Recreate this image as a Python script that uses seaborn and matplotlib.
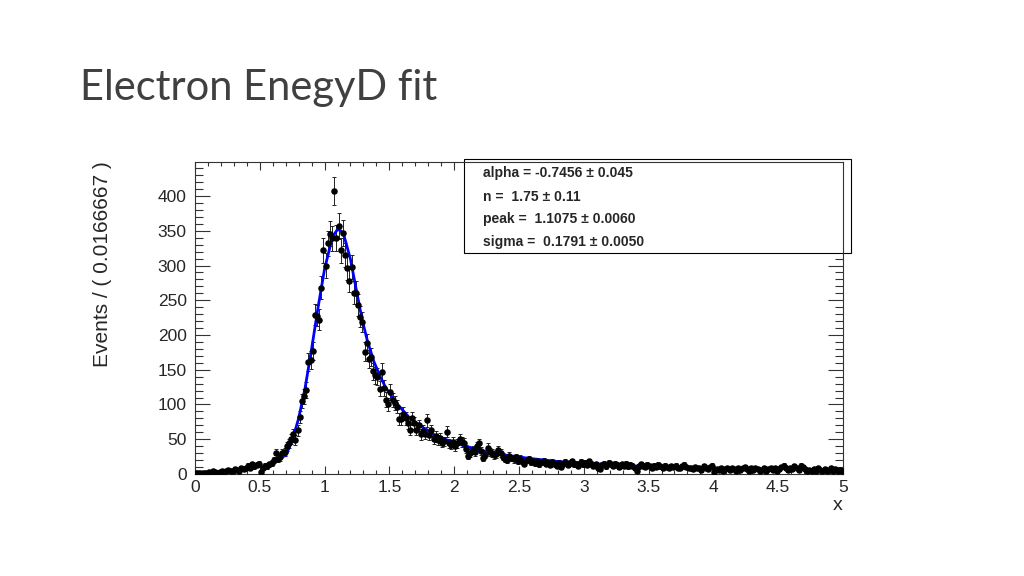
import numpy as np
import pandas as pd
import seaborn as sns
import matplotlib.pyplot as plt
from matplotlib.patches import Rectangle
from matplotlib.ticker import MultipleLocator

# histogram counts, 300 bins of width 1/60 from 0 to 5
counts_low = [2, 1, 2, 1, 1, 2, 3, 2, 4, 3, 2, 3,
              5, 3, 4, 6, 5, 4, 7, 6, 5, 8, 7, 9,
              12, 9, 14, 11, 13, 15, 3, 9, 12, 11, 14, 16,
              20, 30, 22, 24, 30, 32]
counts_peak = [40, 44, 50, 57, 49, 63, 82, 105, 112, 121,
               161, 164, 177, 229, 228, 222, 268, 322, 300, 332,
               346, 339, 407, 340, 357, 322, 347, 315, 297, 278,
               298, 261, 261, 243, 226, 219, 176, 188, 165, 169,
               148, 142, 140, 123, 147, 124, 107, 100, 118, 106,
               102, 97, 79, 79, 87, 80, 73, 64]
counts_tail = [80, 73, 64, 70, 57, 62, 58, 77, 56, 63,
               50, 54, 49, 52, 45, 47, 61, 44, 42, 46,
               40, 44, 51, 46, 45, 36, 26, 30, 34, 31,
               40, 44, 33, 23, 28, 38, 32, 30, 27, 29,
               34, 30, 25, 22, 20, 26, 23, 21, 24, 19,
               22, 18, 15, 20, 21, 17, 19, 16, 18, 14,
               17, 19, 15, 16, 13, 17, 14, 12, 16, 10,
               15, 17, 13, 16, 18, 14, 15, 12, 17, 14]
counts_flat = [16, 13, 18, 15, 12, 14, 9, 7, 13, 15,
               11, 16, 14, 12, 15, 13, 10, 14, 12, 15,
               11, 13, 12, 9, 5, 11, 14, 12, 10, 13,
               11, 9, 12, 10, 13, 11, 9, 12, 10, 8,
               11, 10, 12, 9, 8, 11, 13, 10, 8, 9,
               7, 10, 8, 9, 6, 11, 8, 7, 10, 12]
counts_end = [3, 7, 6, 8, 5, 7, 9, 6, 8, 7,
              5, 9, 6, 8, 10, 7, 5, 8, 6, 9,
              7, 5, 6, 8, 4, 7, 9, 6, 8, 5,
              7, 10, 12, 8, 6, 9, 7, 11, 9, 6,
              12, 10, 7, 5, 6, 4, 7, 5, 8, 6,
              4, 7, 5, 6, 8, 5, 7, 4, 6, 5]

# fitted curve
fit_x = [0.70, 0.75, 0.80, 0.85, 0.90, 0.95, 1.00, 1.05, 1.075, 1.10, 1.125,
         1.15, 1.20, 1.25, 1.29, 1.33, 1.38, 1.43, 1.47, 1.55, 1.65, 1.75,
         1.85, 2.00, 2.20, 2.40, 2.60, 2.80, 3.00, 3.20, 3.40, 3.60, 3.80, 4.00]
fit_y = [26, 48, 80, 124, 180, 240, 295, 333, 345, 352, 350,
         343, 309, 260, 222, 192, 162, 140, 125, 103, 82, 68,
         56, 45, 34, 27, 22, 18, 15.5, 13.5, 11.5, 10, 8.8, 7.8]

stat_lines = ["alpha = -0.7456 \u00b1 0.045",
              "n =  1.75 \u00b1 0.11",
              "peak =  1.1075 \u00b1 0.0060",
              "sigma =  0.1791 \u00b1 0.0050"]

counts = np.array(counts_low + counts_peak + counts_tail + counts_flat + counts_end)
centers = np.arange(len(counts)) / 60 + 1 / 120
df = pd.DataFrame({"x": centers, "n": counts})
fit = pd.DataFrame({"x": fit_x, "y": fit_y})

sns.set_style("ticks")
plt.rcParams['font.family'] = ['Liberation Sans', 'DejaVu Sans']

fig = plt.figure(figsize=(10.24, 5.76), dpi=100)
ax = fig.add_axes([0.1904, 0.1771, 0.6328, 0.5417])

ax.errorbar(df["x"], df["n"], yerr=np.sqrt(df["n"]), fmt="none",
            ecolor="#222222", elinewidth=0.7, capsize=1.6, capthick=0.7, zorder=3)
sns.lineplot(data=fit, x="x", y="y", color="#0000ff", linewidth=2.0,
             sort=False, estimator=None, ax=ax, zorder=4)
sns.scatterplot(data=df, x="x", y="n", color="black", s=22, linewidth=0,
                ax=ax, zorder=5)

ax.set_xlim(0, 5)
ax.set_ylim(0, 449)
ax.xaxis.set_major_locator(MultipleLocator(0.5))
ax.xaxis.set_minor_locator(MultipleLocator(0.1))
ax.yaxis.set_major_locator(MultipleLocator(50))
ax.yaxis.set_minor_locator(MultipleLocator(10))
ax.set_xticks(np.arange(0, 5.01, 0.5))
ax.set_xticklabels(["0", "0.5", "1", "1.5", "2", "2.5", "3", "3.5", "4", "4.5", "5"])
ax.tick_params(axis="both", which="both", direction="in", top=True, right=True,
               labelsize=12.5, width=0.8, color="#333333")
ax.tick_params(axis="x", which="major", length=6, pad=4)
ax.tick_params(axis="x", which="minor", length=3)
ax.tick_params(axis="y", which="major", length=11, pad=6)
ax.tick_params(axis="y", which="minor", length=6)
for s in ax.spines.values():
    s.set_linewidth(0.8)
    s.set_color("#333333")

ax.set_xlabel("x", fontsize=14, loc="right", labelpad=2)
ax.set_ylabel("Events / ( 0.0166667 )", fontsize=15)
ax.yaxis.set_label_coords(-0.128, 0.673)

# fit parameter box
ax.add_patch(Rectangle((0.415, 0.708), 0.597, 0.302, transform=ax.transAxes,
                       facecolor="white", edgecolor="black", linewidth=0.8,
                       clip_on=False, zorder=1))
for line, yy in zip(stat_lines, [0.965, 0.888, 0.817, 0.744]):
    ax.text(0.444, yy, line, transform=ax.transAxes, fontsize=10,
            fontweight="bold", va="center", ha="left", zorder=6)

fig.text(0.078, 0.848, "Electron EnegyD fit", fontsize=30, family="Lato",
         fontweight="normal", color="#404040", va="center", ha="left")

fig.savefig("out.png", dpi=100)
